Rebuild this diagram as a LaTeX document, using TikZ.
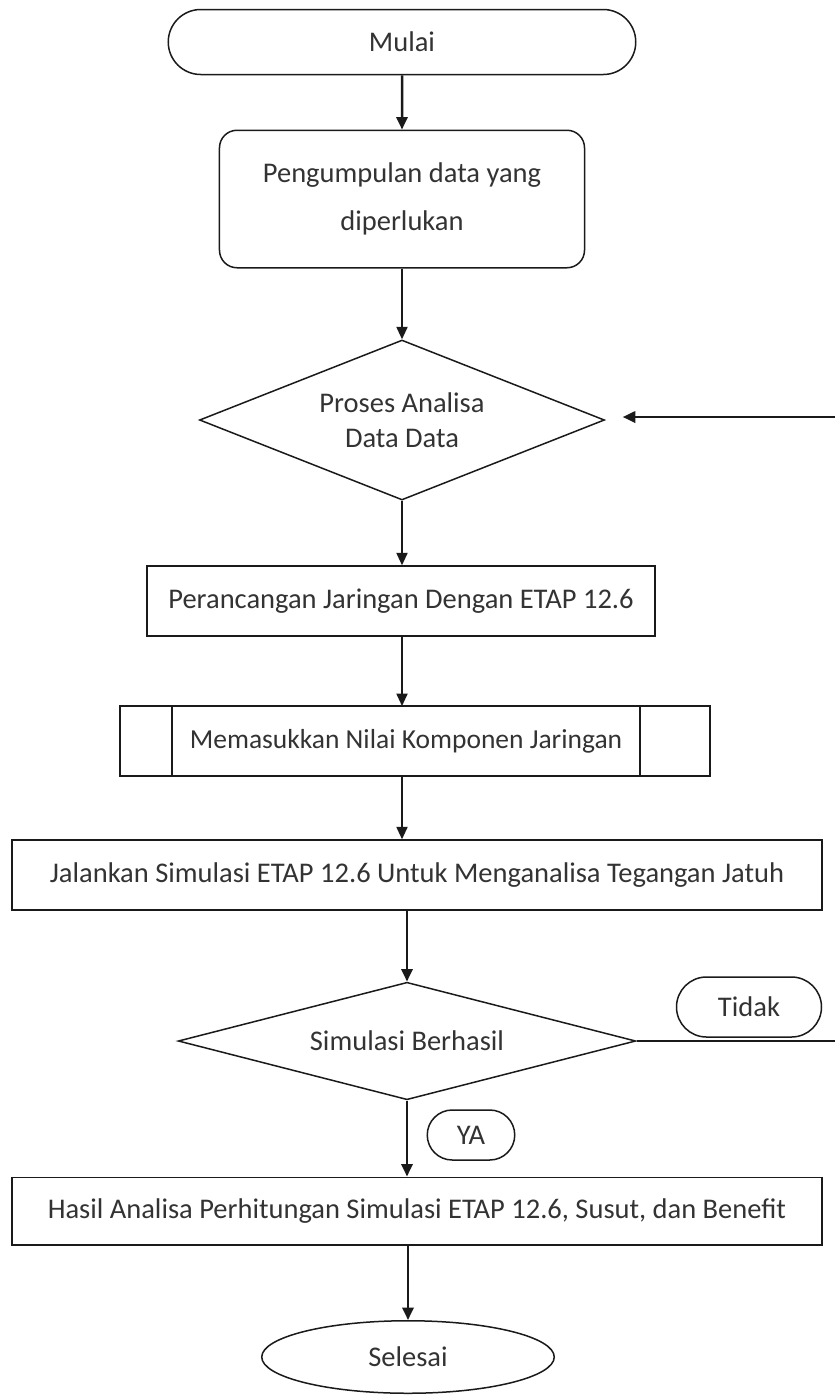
\documentclass[tikz,border=0pt]{standalone}
\usepackage{fontspec}
\setmainfont{Carlito}
\usepackage{tikz}
\usetikzlibrary{shapes.geometric, shapes.misc, arrows.meta, calc}
\usepackage{xcolor}
\definecolor{FlowBlack}{HTML}{1A1A1A}
\definecolor{FlowText}{HTML}{333333}
\tikzset{
    % Box styles
    terminal/.style={
        rounded rectangle,
        draw=FlowBlack,
        line width=0.6pt,
        minimum width=187pt,
        minimum height=26pt,
        inner sep=0pt,
        text=FlowText
    },
    process/.style={
        rectangle,
        draw=FlowBlack,
        line width=0.6pt,
        minimum height=28pt,
        inner sep=0pt,
        align=center,
        text=FlowText
    },
    roundbox/.style={
        rectangle,
        rounded corners=7pt,
        draw=FlowBlack,
        line width=0.6pt,
        inner sep=0pt,
        align=center,
        text=FlowText
    },
    decision/.style={
        diamond,
        draw=FlowBlack,
        line width=0.6pt,
        inner sep=0pt,
        align=center,
        text=FlowText
    },
    label/.style={
        rounded rectangle,
        draw=FlowBlack,
        line width=0.6pt,
        inner sep=0pt,
        text=FlowText
    },
    % Arrow styles
    arrow/.style={
        -{Triangle[length=5pt,width=4.5pt]},
        line width=0.6pt,
        draw=FlowBlack
    },
    thickarrow/.style={
        -{Triangle[length=5pt,width=4.5pt]},
        line width=1pt,
        draw=FlowBlack
    },
    plainline/.style={
        line width=0.6pt,
        draw=FlowBlack
    }
}

\begin{document}
\begin{tikzpicture}[x=0.4pt, y=-0.4pt, font=\fontsize{11.4}{14}\selectfont]
    \useasboundingbox (0,0) rectangle (835,1395);

    % Start
    \node[terminal] (mulai) at (402,42) {Mulai};
    \node[roundbox, minimum width=146pt, minimum height=55pt] (kumpul) at (402,199)
        {Pengumpulan data yang\\[5pt]diperlukan};
    \node[decision, aspect=2.53, minimum width=162pt, minimum height=64pt] (proses) at (402,420)
        {Proses Analisa\\Data Data};
    \node[process, minimum width=203pt] (rancang) at (401,601)
        {Perancangan Jaringan Dengan ETAP 12.6};

    % Predefined process box
    \node[process, draw=none, outer sep=0pt, minimum width=187pt] (nilai) at (406,741)
        {\fontsize{11}{14}\selectfont Memasukkan Nilai Komponen Jaringan};
    \draw[plainline] ([xshift=-20.8pt]nilai.north west) rectangle ([xshift=28pt]nilai.south east);
    \draw[plainline] (nilai.north west) -- (nilai.south west);
    \draw[plainline] (nilai.north east) -- (nilai.south east);

    \node[process, minimum width=324pt] (jalan) at (417,875)
        {Jalankan Simulasi ETAP 12.6 Untuk Menganalisa Tegangan Jatuh};
    \node[decision, aspect=3.9, minimum width=183pt, minimum height=47pt] (sim) at (407,1041)
        {Simulasi Berhasil};
    \node[label, minimum width=58pt, minimum height=24pt] (tidak) at (749,1007) {Tidak};
    \node[label, minimum width=35pt, minimum height=20pt] (ya) at (471,1135) {YA};
    \node[process, minimum width=324pt, minimum height=27pt] (hasil) at (417,1211)
        {Hasil Analisa Perhitungan Simulasi ETAP 12.6, Susut, dan Benefit};

    % End
    \node[ellipse, draw=FlowBlack, line width=0.6pt, minimum width=117pt,
        minimum height=29pt, inner sep=0pt, text=FlowText] (selesai) at (408,1357) {Selesai};

    % Feedback ends
    \coordinate (rtop) at (835,417);
    \coordinate (rbot) at (835,1041);

    % Connectors
    \draw[thickarrow] (mulai) -- (kumpul);
    \draw[arrow] (kumpul) -- (proses);
    \draw[arrow] (proses.south) -- (rancang.north -| proses.south);
    \draw[arrow] (rancang.south -| proses.south) -- (nilai.north -| proses.south);
    \draw[arrow] (nilai.south -| proses.south) -- (jalan.north -| proses.south);
    \draw[thickarrow] (jalan.south -| sim.north) -- (sim.north);
    \draw[thickarrow] (sim.south) -- (hasil.north -| sim.south);
    \draw[thickarrow] (hasil.south -| selesai.north) -- (selesai.north);
    \draw[thickarrow, shorten >=7pt] (rtop) -- (rtop -| proses.east);
    \draw[plainline] (sim.east) -- (rbot);
\end{tikzpicture}
\end{document}
